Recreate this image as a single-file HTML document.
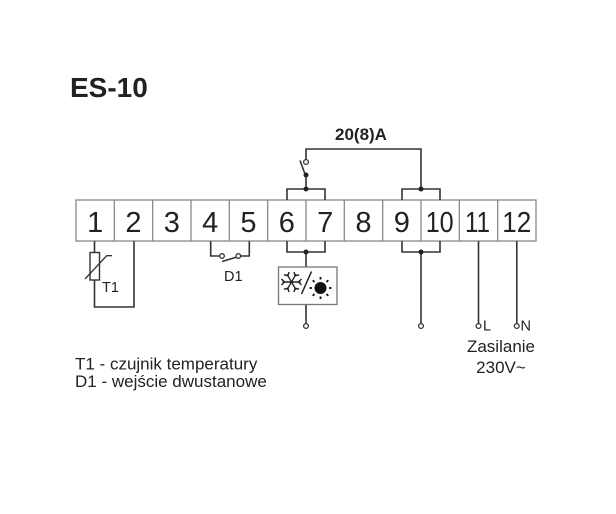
<!DOCTYPE html>
<html><head><meta charset="utf-8"><style>
html,body{margin:0;padding:0;background:#fff;}
svg{display:block;}
text{font-family:"Liberation Sans",Arial,sans-serif;fill:#222;}
</style></head><body>
<svg width="616" height="514" viewBox="0 0 616 514" xmlns="http://www.w3.org/2000/svg">
<text x="70" y="97" font-size="28" font-weight="bold">ES-10</text>
<text x="335" y="140" font-size="17" font-weight="bold">20(8)A</text>

<!-- terminal block -->
<g stroke="#888" stroke-width="1.3" fill="none">
<rect x="76" y="200" width="460" height="41"/>
<line x1="114.3" y1="200" x2="114.3" y2="241"/>
<line x1="152.7" y1="200" x2="152.7" y2="241"/>
<line x1="191" y1="200" x2="191" y2="241"/>
<line x1="229.3" y1="200" x2="229.3" y2="241"/>
<line x1="267.7" y1="200" x2="267.7" y2="241"/>
<line x1="306" y1="200" x2="306" y2="241"/>
<line x1="344.3" y1="200" x2="344.3" y2="241"/>
<line x1="382.7" y1="200" x2="382.7" y2="241"/>
<line x1="421" y1="200" x2="421" y2="241"/>
<line x1="459.3" y1="200" x2="459.3" y2="241"/>
<line x1="497.7" y1="200" x2="497.7" y2="241"/>
</g>
<g font-size="29" text-anchor="middle">
<text x="95.2" y="232">1</text>
<text x="133.5" y="232">2</text>
<text x="171.8" y="232">3</text>
<text x="210.2" y="232">4</text>
<text x="248.5" y="232">5</text>
<text x="286.8" y="232">6</text>
<text x="325.2" y="232">7</text>
<text x="363.5" y="232">8</text>
<text x="401.8" y="232">9</text>
</g>
<g font-size="29">
<text x="425.7" y="232" textLength="28" lengthAdjust="spacingAndGlyphs">10</text>
<text x="465" y="232" textLength="25" lengthAdjust="spacingAndGlyphs">11</text>
<text x="502.3" y="232" textLength="29" lengthAdjust="spacingAndGlyphs">12</text>
</g>

<g stroke="#333" stroke-width="1.6" fill="none">
<!-- relay top -->
<polyline points="306,159.5 306,149 421,149 421,189"/>
<line x1="300" y1="160.5" x2="305" y2="174"/>
<line x1="306" y1="175" x2="306" y2="189"/>
<polyline points="287,200 287,189 325,189 325,200"/>
<polyline points="402,200 402,189 440,189 440,200"/>
<!-- bottom 6/7 -->
<polyline points="287,241 287,252 325,252 325,241"/>
<line x1="306" y1="252" x2="306" y2="267"/>
<line x1="306" y1="305" x2="306" y2="323.5"/>
<!-- bottom 9/10 -->
<polyline points="402,241 402,252 440,252 440,241"/>
<line x1="421" y1="252" x2="421" y2="323.5"/>
<!-- 11, 12 -->
<line x1="478.5" y1="241" x2="478.5" y2="323.5"/>
<line x1="516.8" y1="241" x2="516.8" y2="323.5"/>
<!-- T1 -->
<line x1="94.5" y1="241" x2="94.5" y2="252.5"/>
<rect x="90" y="252.5" width="9.5" height="27.5" stroke-width="1.4"/>
<polyline points="94.5,280 94.5,307 134,307 134,241"/>
<polyline points="85,279 106.7,255.7 112,255.7" stroke-width="1.3"/>
<!-- D1 -->
<polyline points="210.7,241 210.7,256 219.5,256"/>
<polyline points="240.5,256 249.3,256 249.3,241"/>
<line x1="222" y1="261.5" x2="237" y2="257"/>
</g>
<g fill="#fff" stroke="#333" stroke-width="1.3">
<circle cx="306" cy="162" r="2.4"/>
<circle cx="306" cy="326" r="2.4"/>
<circle cx="421" cy="326" r="2.4"/>
<circle cx="478.5" cy="326" r="2.4"/>
<circle cx="516.8" cy="326" r="2.4"/>
<circle cx="222" cy="256" r="2.3"/>
<circle cx="238.3" cy="256" r="2.3"/>
</g>
<g fill="#222">
<circle cx="306" cy="175" r="2.5"/>
<circle cx="306" cy="189" r="2.5"/>
<circle cx="421" cy="189" r="2.5"/>
<circle cx="306" cy="252" r="2.5"/>
<circle cx="421" cy="252" r="2.5"/>
</g>

<!-- icon box -->
<rect x="278.5" y="267" width="58.5" height="37.5" fill="#fdfdfd" stroke="#777" stroke-width="1.3"/>
<g stroke="#222" stroke-width="1.4" fill="none" transform="translate(291.5,282)">
<line x1="-9" y1="0" x2="9" y2="0"/>
<line x1="-4.5" y1="-7.8" x2="4.5" y2="7.8"/>
<line x1="4.5" y1="-7.8" x2="-4.5" y2="7.8"/>
<polyline points="-10,-3 -7,0 -10,3"/>
<polyline points="10,-3 7,0 10,3"/>
<polyline points="-7.6,-7.2 -3.6,-6.2 -2.5,-10"/>
<polyline points="7.6,-7.2 3.6,-6.2 2.5,-10"/>
<polyline points="-7.6,7.2 -3.6,6.2 -2.5,10"/>
<polyline points="7.6,7.2 3.6,6.2 2.5,10"/>
</g>
<line x1="301.5" y1="294" x2="311.5" y2="271.5" stroke="#222" stroke-width="1.5"/>
<circle cx="320.5" cy="288" r="6" fill="#111"/>
<g stroke="#111" stroke-width="1.8">
<line x1="320.5" y1="277" x2="320.5" y2="279.5"/>
<line x1="320.5" y1="296.5" x2="320.5" y2="299"/>
<line x1="309.5" y1="288" x2="312" y2="288"/>
<line x1="329" y1="288" x2="331.5" y2="288"/>
<line x1="312.7" y1="280.2" x2="314.5" y2="282"/>
<line x1="326.5" y1="294" x2="328.3" y2="295.8"/>
<line x1="328.3" y1="280.2" x2="326.5" y2="282"/>
<line x1="314.5" y1="294" x2="312.7" y2="295.8"/>
</g>

<!-- labels -->
<text x="102" y="292" font-size="14.5">T1</text>
<text x="224" y="281" font-size="14.5">D1</text>
<text x="483" y="330.5" font-size="14.5">L</text>
<text x="520.5" y="330.5" font-size="14.5">N</text>
<text x="501" y="352" font-size="17" text-anchor="middle">Zasilanie</text>
<text x="501" y="373" font-size="17" text-anchor="middle">230V~</text>
<text x="75" y="369.5" font-size="17">T1 - czujnik temperatury</text>
<text x="75" y="387" font-size="17">D1 - wejście dwustanowe</text>
</svg>
</body></html>
